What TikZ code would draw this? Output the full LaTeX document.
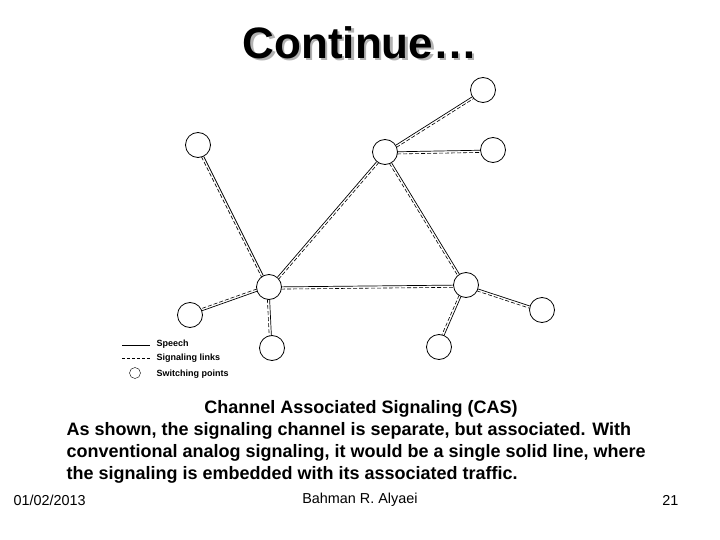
\documentclass[tikz,border=0pt]{standalone}
\usepackage{fontspec}
\setmainfont{Liberation Sans}
\usetikzlibrary{calc,backgrounds}
\begin{document}
\begin{tikzpicture}[x=1pt,y=-1pt,
  sw/.style={circle,draw,fill=white,minimum size=25pt,inner sep=0pt,line width=0.8pt},
  body/.style={font=\bfseries\fontsize{18}{22}\selectfont,align=left,anchor=west}]
\useasboundingbox (0,0) rectangle (720,540);
\node (title) at (360,44) {\fontsize{44}{48}\selectfont\bfseries\rlap{\hspace{2.5pt}\raisebox{-2.5pt}{\color{gray!60}Continue…}}Continue…};
\node[sw] (A) at (483,90) {};
\node[sw] (B) at (385,152) {};
\node[sw] (C) at (493,150) {};
\node[sw] (D) at (198,145) {};
\node[sw] (E) at (269,287) {};
\node[sw] (F) at (466,285) {};
\node[sw] (G) at (190,315) {};
\node[sw] (H) at (272,348) {};
\node[sw] (I) at (439,347) {};
\node[sw] (J) at (542,310) {};
\begin{scope}[on background layer]
\foreach \a/\b in {B/A,B/C,D/E,E/B,B/F,E/F,E/G,E/H,F/I,F/J}{
  \draw[line width=0.7pt] (\a) -- (\b);
  \draw[line width=0.6pt,dash pattern=on 4pt off 2pt] ($(\a)!2.2pt!-90:(\b)$) -- ($(\b)!2.2pt!90:(\a)$);
}
\end{scope}
\coordinate (l1a) at (122,345); \coordinate (l1b) at (150,345);
\draw[line width=0.8pt] (l1a) -- (l1b);
\coordinate (l2a) at (122,358); \coordinate (l2b) at (150,358);
\draw[line width=0.5pt,dash pattern=on 3pt off 2pt] (l2a) -- (l2b);
\node[circle,draw,minimum size=11pt,inner sep=0pt] (lc) at (135,373) {};
\node[anchor=west,font=\bfseries\fontsize{9}{10}\selectfont] (t1) at (153,344) {Speech};
\node[anchor=west,font=\bfseries\fontsize{9}{10}\selectfont] (t2) at (153,358) {Signaling links};
\node[anchor=west,font=\bfseries\fontsize{9}{10}\selectfont] (t3) at (153,374) {Switching points};
\node[font=\bfseries\fontsize{18}{22}\selectfont] (cap) at (361,409) {Channel Associated Signaling (CAS)};
\node[body] (p1) at (63,431) {As shown, the signaling channel is separate, but associated. With};
\node[body] (p2) at (63,453) {conventional analog signaling, it would be a single solid line, where};
\node[body] (p3) at (63,475) {the signaling is embedded with its associated traffic.};
\node[anchor=west,font=\fontsize{14.4}{16}\selectfont] (f1) at (10,500) {01/02/2013};
\node[font=\fontsize{14.4}{16}\selectfont] (f2) at (360,500) {Bahman R. Alyaei};
\node[anchor=east,font=\fontsize{14.4}{16}\selectfont] (f3) at (682,500) {21};
\end{tikzpicture}
\end{document}
